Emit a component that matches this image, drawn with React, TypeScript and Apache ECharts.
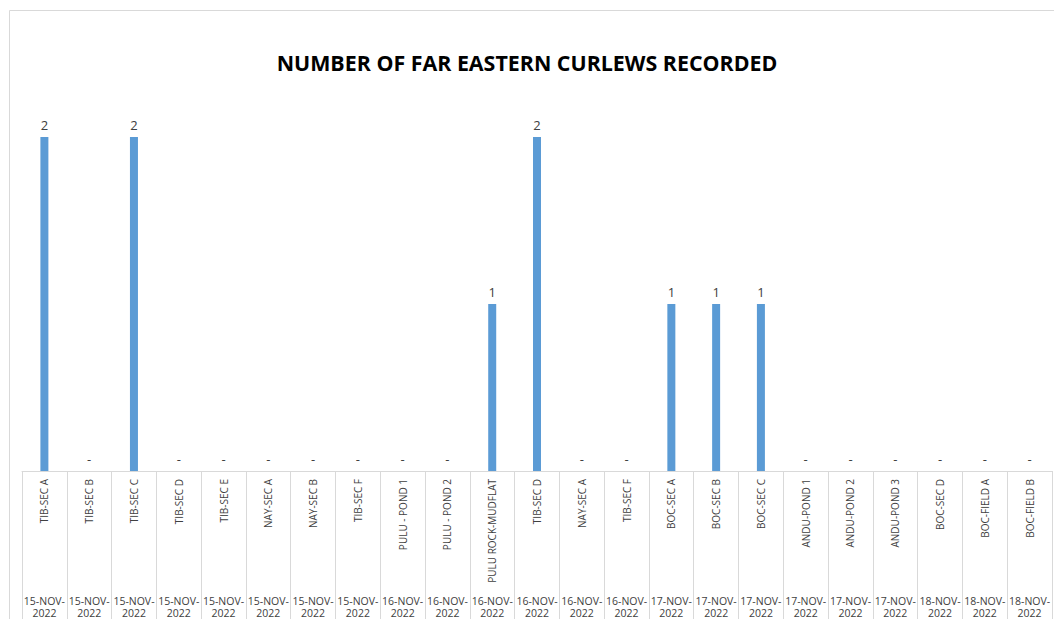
import React, { useEffect, useRef } from "react";
import * as echarts from "echarts";

const sites = [
  "TIB-SEC A", "TIB-SEC B", "TIB-SEC C", "TIB-SEC D", "TIB-SEC E", "NAY-SEC A", "NAY-SEC B", "TIB-SEC F",
  "PULU - POND 1", "PULU - POND 2", "PULU ROCK-MUDFLAT", "TIB-SEC D", "NAY-SEC A", "TIB-SEC F",
  "BOC-SEC A", "BOC-SEC B", "BOC-SEC C", "ANDU-POND 1", "ANDU-POND 2", "ANDU-POND 3",
  "BOC-SEC D", "BOC-FIELD A", "BOC-FIELD B",
];
const dates = [
  "15-NOV-2022", "15-NOV-2022", "15-NOV-2022", "15-NOV-2022", "15-NOV-2022", "15-NOV-2022", "15-NOV-2022", "15-NOV-2022",
  "16-NOV-2022", "16-NOV-2022", "16-NOV-2022", "16-NOV-2022", "16-NOV-2022", "16-NOV-2022",
  "17-NOV-2022", "17-NOV-2022", "17-NOV-2022", "17-NOV-2022", "17-NOV-2022", "17-NOV-2022",
  "18-NOV-2022", "18-NOV-2022", "18-NOV-2022",
];
const curlews = [2, 0, 2, 0, 0, 0, 0, 0, 0, 0, 1, 2, 0, 0, 1, 1, 1, 0, 0, 0, 0, 0, 0];
const titleText = "NUMBER OF FAR EASTERN CURLEWS RECORDED";

export default function App() {
  const ref = useRef<HTMLDivElement>(null);
  useEffect(() => {
    if (!ref.current) return;
    const chart = echarts.init(ref.current, undefined, { renderer: "svg" });
    const font = "'Open Sans', 'Noto Sans', sans-serif";
    chart.setOption({
      animation: false,
      backgroundColor: "#ffffff",
      textStyle: { fontFamily: font },
      title: {
        text: titleText,
        left: "center",
        top: 47,
        textStyle: { fontSize: 21.4, fontWeight: "bold", color: "#000000", fontFamily: font },
      },
      graphic: [
        {
          type: "rect",
          shape: { x: 9.5, y: 10.5, width: 1100, height: 700 },
          style: { fill: "none", stroke: "#d9d9d9", lineWidth: 1 },
          silent: true,
        },
      ],
      grid: { left: 22, right: 2, top: 137, bottom: 148, containLabel: false },
      xAxis: [
        {
          type: "category",
          data: sites,
          position: "bottom",
          axisLine: { show: true, lineStyle: { color: "#d9d9d9" } },
          axisTick: { show: true, length: 150, interval: 0, lineStyle: { color: "#d9d9d9" } },
          axisLabel: {
            interval: 0,
            rotate: 90,
            fontSize: 10,
            margin: 8,
            color: "#404040",
            fontFamily: font,
          },
        },
        {
          type: "category",
          data: dates,
          position: "bottom",
          offset: 116,
          axisLine: { show: false },
          axisTick: { show: false },
          axisLabel: {
            interval: 0,
            fontSize: 10.5,
            margin: 8,
            color: "#404040",
            lineHeight: 12,
            fontFamily: font,
            formatter: (v: string) => v.replace("-2022", "-\n2022"),
          },
        },
      ],
      yAxis: { type: "value", min: 0, max: 2, show: false, splitLine: { show: false } },
      series: [
        {
          type: "bar",
          xAxisIndex: 0,
          data: curlews,
          barWidth: 8,
          itemStyle: { color: "#5b9bd5" },
          label: {
            show: true,
            position: "top",
            distance: 6,
            fontSize: 13,
            color: "#404040",
            fontFamily: font,
            formatter: (p: any) => (p.value === 0 ? "-" : String(p.value)),
          },
        },
      ],
    });
    return () => chart.dispose();
  }, []);
  return (
    <div
      ref={ref}
      style={{ position: "fixed", left: 0, top: 0, width: 1054, height: 619 }}
    />
  );
}
